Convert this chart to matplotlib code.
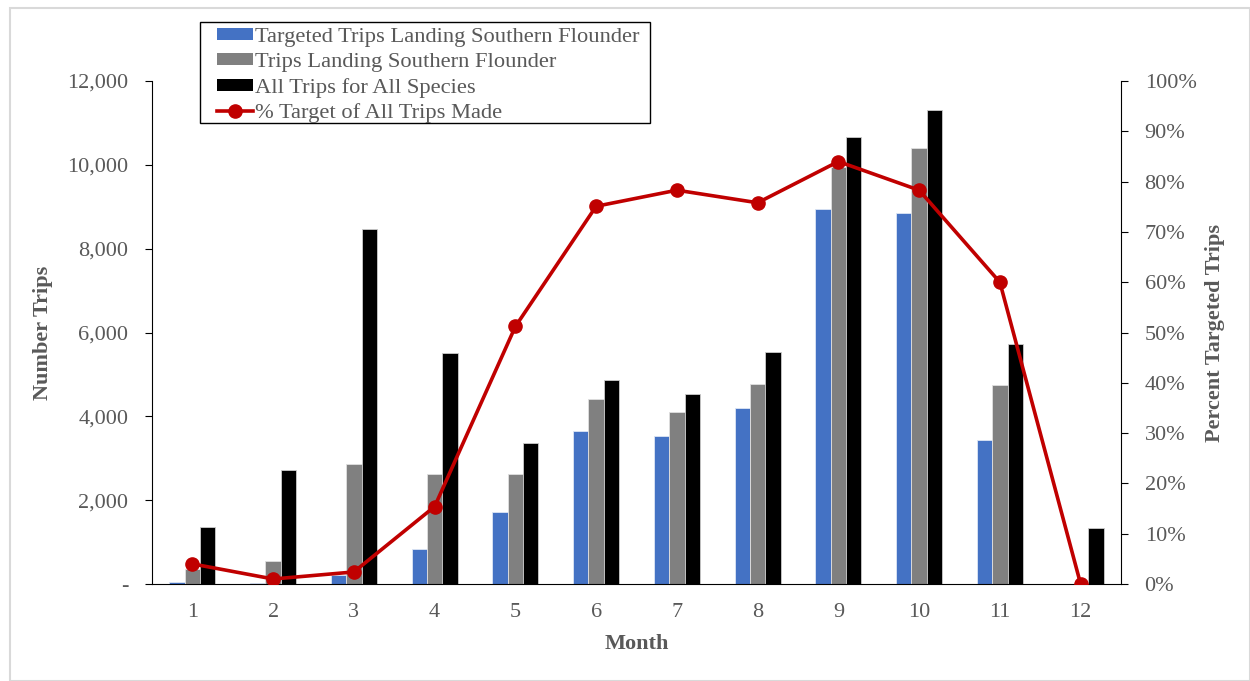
import matplotlib.pyplot as plt
import numpy as np
from matplotlib.ticker import FuncFormatter, PercentFormatter
from matplotlib.lines import Line2D
from matplotlib.patches import Patch, Rectangle

plt.rcParams['font.family'] = ['Liberation Serif', 'DejaVu Serif']

months = [1, 2, 3, 4, 5, 6, 7, 8, 9, 10, 11, 12]
targeted = [50, 27, 207, 843, 1718, 3651, 3539, 4199, 8940, 8845, 3428, 0]
landing = [365, 556, 2863, 2617, 2617, 4406, 4096, 4780, 9960, 10411, 4748, 0]
all_trips = [1360, 2713, 8470, 5512, 3372, 4867, 4525, 5543, 10658, 11302, 5719, 1329]
pct_target = [4.0, 1.0, 2.4, 15.4, 51.2, 75.1, 78.3, 75.8, 84.0, 78.3, 60.0, 0.0]

grey = "#595959"
x = np.arange(len(months)) + 1
w = 0.19

fig = plt.figure(figsize=(12.5, 6.81), dpi=100)
ax = fig.add_axes([0.1216, 0.1424, 0.7752, 0.7386])

ax.bar(x - w, targeted, w, color="#4472C4", edgecolor="#dde6f5", linewidth=0.6)
ax.bar(x, landing, w, color="#808080", edgecolor="#e0e0e0", linewidth=0.6)
ax.bar(x + w, all_trips, w, color="#000000", edgecolor="#cccccc", linewidth=0.6)

ax.set_xlim(0.5, 12.5)
ax.set_ylim(0, 12000)
ax.set_yticks(range(0, 12001, 2000))
ax.yaxis.set_major_formatter(FuncFormatter(lambda v, p: "-" if v == 0 else f"{int(v):,}"))
ax.set_xticks(x)
ax.set_xticklabels([str(m) for m in months])
ax.tick_params(axis="x", length=0, pad=14, labelsize=16, labelcolor=grey)
ax.tick_params(axis="y", direction="out", length=5, pad=12, labelsize=16, labelcolor=grey)
ax.spines["top"].set_visible(False)
ax.spines["right"].set_visible(False)
ax.set_xlabel("Month", fontsize=16, fontweight="bold", color=grey, labelpad=8)
ax.set_ylabel("Number Trips", fontsize=16, fontweight="bold", color=grey, labelpad=10)

ax2 = ax.twinx()
ax2.plot(x, pct_target, color="#C00000", linewidth=2.6, marker="o", markersize=9.5)
ax2.set_ylim(0, 100)
ax2.set_yticks(range(0, 101, 10))
ax2.yaxis.set_major_formatter(PercentFormatter(decimals=0))
ax2.tick_params(axis="y", direction="out", length=5, pad=12, labelsize=16, labelcolor=grey)
ax2.spines["top"].set_visible(False)
ax2.spines["left"].set_visible(False)
ax2.spines["bottom"].set_visible(False)
ax2.set_ylabel("Percent Targeted Trips", fontsize=16, fontweight="bold", color=grey, labelpad=6)

handles = [
    Patch(facecolor="#4472C4", label="Targeted Trips Landing Southern Flounder"),
    Patch(facecolor="#808080", label="Trips Landing Southern Flounder"),
    Patch(facecolor="#000000", label="All Trips for All Species"),
    Line2D([], [], color="#C00000", linewidth=2.6, marker="o", markersize=9.5,
           label="% Target of All Trips Made"),
]

# legend box drawn by hand so the padding matches
fig.patches.append(Rectangle((0.16, 0.8194), 0.36, 0.1483, transform=fig.transFigure,
                             facecolor="white", edgecolor="black", linewidth=1.0, zorder=5))
leg = fig.legend(handles=handles, loc="upper left", bbox_to_anchor=(0.1735, 0.959),
                 frameon=False, fontsize=16.2, handlelength=1.6, handleheight=0.45,
                 handletextpad=0.1, labelspacing=0.26, borderpad=0, borderaxespad=0)
leg.set_zorder(6)
for t in leg.get_texts():
    t.set_color(grey)

fig.patches.append(Rectangle((0.008, 0.0), 0.992, 0.988, transform=fig.transFigure,
                             fill=False, edgecolor="#d9d9d9", linewidth=1.5))

plt.savefig("out.png", dpi=100)
